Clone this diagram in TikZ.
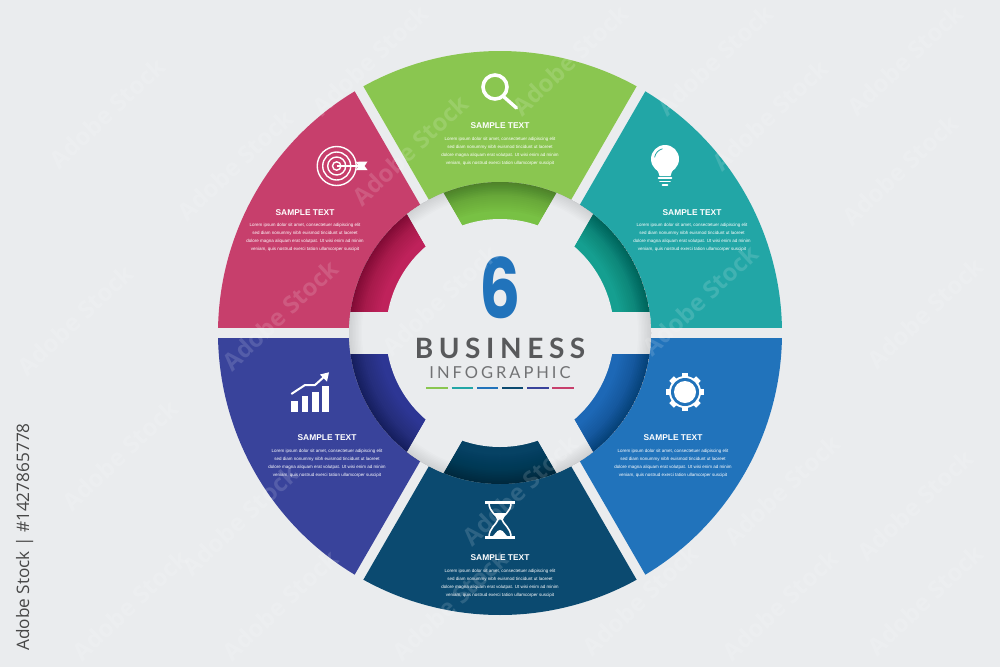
\documentclass[tikz,border=0pt]{standalone}
\usepackage{fontspec}
\setmainfont{Liberation Sans}
\newfontfamily\latofont{Lato}
\newfontfamily\popfont{Poppins}
\newfontfamily\stockfont{Open Sans}
\definecolor{bgc}{HTML}{EAECEE}
\definecolor{cgreen}{HTML}{8AC650}\definecolor{dgreen}{HTML}{78C144}
\definecolor{cteal}{HTML}{22A6A6}\definecolor{dteal}{HTML}{159F90}
\definecolor{cblue}{HTML}{2173BB}\definecolor{dblue}{HTML}{1D68B6}
\definecolor{cnavy}{HTML}{0B4A70}\definecolor{dnavy}{HTML}{064264}
\definecolor{cpurple}{HTML}{39439B}\definecolor{dpurple}{HTML}{2D3694}
\definecolor{cred}{HTML}{C73F6C}\definecolor{dred}{HTML}{BF225B}
\definecolor{greytxt}{HTML}{58595B}
\tikzset{
 heading/.style={text=white,font=\fontsize{8.4}{10}\selectfont\bfseries,inner sep=0pt},
 body/.style={text=white,font=\fontsize{4.5}{8}\selectfont,align=center,inner sep=0pt},
 mark text/.style={text=white,opacity=.14,rotate=43,inner sep=0pt,font=\stockfont\fontsize{24}{26}\selectfont\bfseries},
 icon/.style={draw=white,line cap=round,line join=round},
}
\newcommand{\loremtext}{Lorem ipsum dolor sit amet, consectetuer adipiscing elit\\sed diam nonummy nibh euismod tincidunt ut laoreet\\dolore magna aliquam erat volutpat. Ut wisi enim ad minim\\veniam, quis nostrud exerci tation ullamcorper suscipit}
\begin{document}
\begin{tikzpicture}[x=1pt,y=-1pt]
\useasboundingbox (0,0) rectangle (1000,667);
\fill[bgc] (0,0) rectangle (1000,667);
% wheel
\begin{scope}[shift={(500,333)},x=1pt,y=1pt]
 \foreach \t/\c in {90/cgreen,30/cteal,-30/cblue,-90/cnavy,-150/cpurple,150/cred}{
  \fill[\c] (\t:10pt) -- (\t-28.98:282pt) arc[start angle=\t-28.98,end angle=\t+28.98,radius=282pt] -- cycle;
 }
 \fill[bgc] (0,0) circle (151pt);
 \begin{scope}
 \clip (0,0) circle (151pt);
 \foreach \t/\c in {90/dgreen,30/dteal,-30/dblue,-90/dnavy,-150/dpurple,150/dred}{
  \fill[\c] (\t:42pt) -- (\t-22:151pt) arc[start angle=\t-22,end angle=\t+22,radius=151pt] -- cycle;
 }
 \foreach \r in {150,148,...,122}{
  \fill[black,opacity=.014,even odd rule] (0,0) circle (151.5pt) (0,0) circle (\r pt);
 }
 \foreach \a in {0,60,120}{
  \fill[bgc,rotate=\a] (-152pt,-21pt) rectangle (152pt,21pt);
 }
 \fill[bgc] (0,0) circle (114pt);
 \foreach \r in {150,148.5,...,138}{
  \fill[black,opacity=.012,even odd rule] (0,0) circle (151.5pt) (0,0) circle (\r pt);
 }
 \end{scope}
\end{scope}
% centre
\node[inner sep=0pt,xscale=.78,text=cblue,font=\popfont\fontsize{83}{83}\selectfont\bfseries] (six) at (500,288) {6};
\node[inner sep=0pt,text=greytxt,font=\latofont\fontsize{28}{30}\selectfont\bfseries\addfontfeature{LetterSpace=20}] (biz) at (500,348) {BUSINESS};
\node[inner sep=0pt,text=greytxt!85,font=\latofont\fontsize{16.5}{18}\selectfont\addfontfeature{LetterSpace=18}] (info) at (500,373) {INFOGRAPHIC};
\foreach \a/\b/\c in {426/447.7/cgreen,451.7/472.7/cteal,477/498.3/cblue,502.3/523.3/cnavy,527.3/548.7/cpurple,552.3/574/cred}{
 \draw[\c,line width=1.5pt] (\a,388) -- (\b,388);
}
% texts
\foreach \n/\x/\ty/\by in {g/500/125.5/151,r/305/212.5/237.5,t/692/212.5/237.5,p/327/437.5/463,b/673/437.5/463,n/500/557.5/583}{
 \node[heading] (h\n) at (\x,\ty) {SAMPLE TEXT};
 \node[body] (l\n) at (\x,\by) {\loremtext};
}
% magnifier
\draw[icon,line width=3.6pt] (495,87) circle[radius=12pt];
\draw[icon,line width=3.4pt] (504,97) -- (516.5,108);
% target
\foreach \r in {19.5,14,9,4.2}{\draw[white,line width=1.4pt] (336.7,166) circle[radius=\r pt];}
\draw[white,line width=1.2pt] (336.7,166) -- (360,166);
\fill[white] (356,162) -- (361,161.5) -- (367.5,161.5) -- (364.5,166) -- (367.5,170) -- (361,170) -- (356,170) -- (358.5,166) -- cycle;
% bulb
\fill[white] (665,159) circle[radius=14pt];
\fill[white] (655,168) .. controls (658,171) and (659,173) .. (659.5,176) -- (670.5,176) .. controls (671,173) and (672,171) .. (675,168) -- cycle;
\draw[white,line width=1.6pt,line cap=round] (658.5,178) -- (671.5,178);
\draw[white,line width=1.6pt,line cap=round] (660,181.5) -- (670,181.5);
\draw[white,line width=1.6pt,line cap=round] (662.5,185) -- (667.5,185);
\begin{scope}[shift={(665,159)},x=1pt,y=1pt]
 \draw[cteal,line width=.8pt,line cap=round] (105:10.5pt) arc[start angle=105,end angle=170,radius=10.5pt];
\end{scope}
% chart
\foreach \a/\b/\h in {291.3/298.3/400.7,301.7/308.3/396,311.7/318.7/391.7,321.7/329/385.7}{
 \fill[white] (\a,411.7) rectangle (\b,\h);
}
\draw[white,line width=2pt,line join=round] (291.3,394) -- (305,385) -- (315,385) -- (325,376);
\fill[white] (329,372.3) -- (327,381.5) -- (320,374.5) -- cycle;
% gear
\begin{scope}[shift={(685,392)},x=1pt,y=1pt]
 \fill[white] (0,0) circle (16pt);
 \foreach \a in {0,45,...,315}{\draw[white,line width=6.5pt] (\a:14pt) -- (\a:19pt);}
 \fill[cblue] (0,0) circle (14pt);
 \fill[white] (0,0) circle (11pt);
\end{scope}
% hourglass
\fill[white] (485.3,500.5) rectangle (514.7,503.5);
\fill[white] (485.3,536) rectangle (514.7,539);
\draw[white,line width=1.6pt] (489,503) .. controls (489,512) and (497,515) .. (498,519.5) .. controls (497,524) and (489,528) .. (489,537);
\draw[white,line width=1.6pt] (511,503) .. controls (511,512) and (503,515) .. (502,519.5) .. controls (503,524) and (511,528) .. (511,537);
\fill[white] (493.5,513) -- (506.5,513) -- (501,519.5) -- (499,519.5) -- cycle;
\fill[white] (491,537) .. controls (495,536) and (496,530) .. (500,530) .. controls (504,530) and (505,536) .. (509,537) -- cycle;
% margin text
\node[inner sep=0pt,rotate=90,anchor=base west,text=black!72,font=\stockfont\fontsize{17.2}{20}\selectfont] (stock) at (29,651) {Adobe Stock | \#1427865778};
% faint marks
\foreach \x/\y [count=\i] in {107/113,235/165,370/60,410/150,570/60,715/60,770/115,900/170,905/60,925/313,75/320,280/315,440/300,700/300,120/455,240/520,520/490,782/490,915/505,130/605,280/605,450/605,640/600,780/605,925/600}{
 \node[mark text] (w\i) at (\x,\y) {Adobe Stock};
}
\end{tikzpicture}
\end{document}
